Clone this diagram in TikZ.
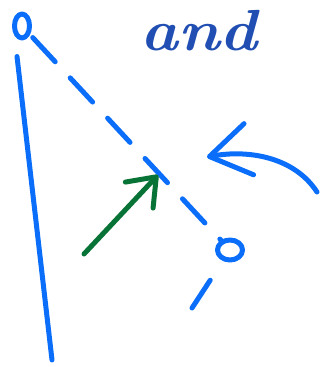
\documentclass[tikz,border=0pt]{standalone}
\usetikzlibrary{arrows.meta, shapes.geometric}
\definecolor{penblue}{RGB}{10,110,250}
\definecolor{pengreen}{RGB}{8,115,55}
\definecolor{inkblue}{RGB}{32,78,178}

\begin{document}
\begin{tikzpicture}[x=1pt, y=-1pt,
    pen/.style={draw=penblue, line width=5pt, line cap=round, line join=round},
    loopo/.style={pen, ellipse, inner sep=0pt},
    dashpen/.style={pen, dash pattern=on 33pt off 22pt},
    greenpen/.style={pen, draw=pengreen, -{Straight Barb[round, length=25pt, width=38pt]}},
    bluearrow/.style={pen, -{Straight Barb[round, length=40pt, width=52pt]}}]
    \useasboundingbox (0,0) rectangle (329,367);
    % the two little o's and the word
    \node[loopo, minimum width=15pt, minimum height=24pt] (topo) at (22,26) {};
    \node[loopo, minimum width=25pt, minimum height=20pt] (boto) at (230,250) {};
    \node[font=\fontsize{58}{60}\selectfont\bfseries\itshape, text=inkblue, xscale=1.1,
        anchor=base] (word) at (199,50) {and};
    \coordinate (foot) at (52,360);
    \coordinate (tail) at (192,308);
    \coordinate (greentail) at (84,254);
    \coordinate (greentip) at (158,175);
    \coordinate (bluetail) at (317,192);
    % lines
    \draw[pen] ([xshift=-5pt, yshift=-16pt]topo.south) -- (foot);
    \draw[dashpen, shorten <=4pt] (topo) -- (boto);
    \draw[pen, shorten <=23pt] (boto) -- (tail);
    \draw[greenpen] (greentail) -- (greentip);
    \draw[bluearrow] (bluetail) .. controls (295,158) and (250,149) .. (207,157);
\end{tikzpicture}
\end{document}
